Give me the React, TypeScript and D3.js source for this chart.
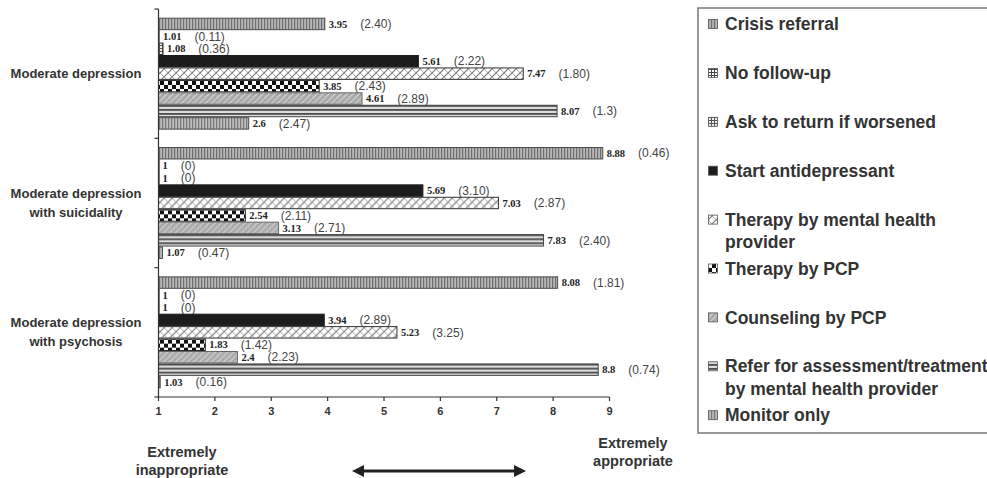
import React from "react";
import * as d3 from "d3";

const W = 987;
const H = 478;

// Clinical scenarios (row groups), one line per array entry
const scenarios = [
  ["Moderate depression"],
  ["Moderate depression", "with suicidality"],
  ["Moderate depression", "with psychosis"],
];

// Management options, in drawing order within each scenario
const options = [
  "Crisis referral",
  "No follow-up",
  "Ask to return if worsened",
  "Start antidepressant",
  "Therapy by mental health provider",
  "Therapy by PCP",
  "Counseling by PCP",
  "Refer for assessment/treatment by mental health provider",
  "Monitor only",
];

const legendLines = [
  ["Crisis referral"],
  ["No follow-up"],
  ["Ask to return if worsened"],
  ["Start antidepressant"],
  ["Therapy by mental health", "provider"],
  ["Therapy by PCP"],
  ["Counseling by PCP"],
  ["Refer for assessment/treatment", "by mental health provider"],
  ["Monitor only"],
];

// Mean appropriateness ratings (1–9) and standard deviations
const meanDepression = [3.95, 1.01, 1.08, 5.61, 7.47, 3.85, 4.61, 8.07, 2.6];
const sdDepression = ["2.40", "0.11", "0.36", "2.22", "1.80", "2.43", "2.89", "1.3", "2.47"];
const meanSuicidality = [8.88, 1, 1, 5.69, 7.03, 2.54, 3.13, 7.83, 1.07];
const sdSuicidality = ["0.46", "0", "0", "3.10", "2.87", "2.11", "2.71", "2.40", "0.47"];
const meanPsychosis = [8.08, 1, 1, 3.94, 5.23, 1.83, 2.4, 8.8, 1.03];
const sdPsychosis = ["1.81", "0", "0", "2.89", "3.25", "1.42", "2.23", "0.74", "0.16"];

const means = [meanDepression, meanSuicidality, meanPsychosis];
const sds = [sdDepression, sdSuicidality, sdPsychosis];

const xTicks = [1, 2, 3, 4, 5, 6, 7, 8, 9];

const SANS = "'Liberation Sans', Arial, Helvetica, sans-serif";
const SERIF = "'Liberation Serif', 'Times New Roman', serif";

const fills = [
  "url(#pat-vstripe)",
  "url(#pat-grid)",
  "url(#pat-grid2)",
  "#1c1c1c",
  "url(#pat-lattice)",
  "url(#pat-checker)",
  "url(#pat-weave)",
  "url(#pat-hstripe)",
  "url(#pat-vstripe2)",
];
const strokes = ["#4a4a4a", "#333", "#333", "#1c1c1c", "#333", "#222", "#666", "#444", "#4a4a4a"];

// rough advance width of a bold serif number label at 10.5px
function labelWidth(s: string) {
  let w = 0;
  for (const c of s) w += c === "." ? 2.6 : 5.25;
  return w;
}

export default function App() {
  const x = d3.scaleLinear().domain([1, 9]).range([158.5, 609.5]);
  const yGroup = d3
    .scaleBand<number>()
    .domain(d3.range(scenarios.length))
    .range([9, 397]);
  const yBar = d3
    .scaleBand<number>()
    .domain(d3.range(options.length))
    .range([0, yGroup.bandwidth()])
    .paddingInner(0)
    .paddingOuter(0.7);

  const axisY = 397;
  const x0 = x(1);
  const groupEdges = [...yGroup.domain().map((g) => yGroup(g)!), 397];

  const legendX = 698;
  const legendTop = 8;
  const legendBottom = 433;
  const legendStep = 48.9;
  const legendFirst = 24;

  return (
    <div
      style={{
        position: "absolute",
        left: 0,
        top: 0,
        width: W,
        height: H,
        overflow: "hidden",
        background: "#fff",
      }}
    >
      <svg width={W + 40} height={H} style={{ display: "block" }}>
        <defs>
          <pattern id="pat-vstripe" width="3" height="4" patternUnits="userSpaceOnUse">
            <rect width="3" height="4" fill="#b8b8b8" />
            <rect width="1.2" height="4" fill="#6e6e6e" />
          </pattern>
          <pattern id="pat-vstripe2" width="3" height="4" patternUnits="userSpaceOnUse">
            <rect width="3" height="4" fill="#bdbdbd" />
            <rect width="1.2" height="4" fill="#777" />
          </pattern>
          <pattern id="pat-grid" width="3" height="3" patternUnits="userSpaceOnUse">
            <rect width="3" height="3" fill="#fff" />
            <rect width="3" height="1" fill="#444" />
            <rect width="1" height="3" fill="#444" />
          </pattern>
          <pattern id="pat-grid2" width="3" height="3" patternUnits="userSpaceOnUse">
            <rect width="3" height="3" fill="#eee" />
            <rect width="3" height="1" fill="#555" />
            <rect width="1" height="3" fill="#555" />
          </pattern>
          <pattern id="pat-lattice" width="8" height="8" patternUnits="userSpaceOnUse">
            <rect width="8" height="8" fill="#fff" />
            <path d="M0,8 L8,0 M-2,2 L2,-2 M6,10 L10,6" stroke="#777" strokeWidth="1.1" />
            <path d="M0,0 Q4,3 8,8" stroke="#999" strokeWidth="0.9" fill="none" />
          </pattern>
          <pattern id="pat-checker" width="8" height="8" patternUnits="userSpaceOnUse">
            <rect width="8" height="8" fill="#fff" />
            <rect width="4" height="4" fill="#111" />
            <rect x="4" y="4" width="4" height="4" fill="#111" />
          </pattern>
          <pattern id="pat-weave" width="6" height="6" patternUnits="userSpaceOnUse">
            <rect width="6" height="6" fill="#a9a9a9" />
            <path d="M0,6 L6,0 M-1,1 L1,-1 M5,7 L7,5" stroke="#d6d6d6" strokeWidth="1.2" />
            <path d="M0,3 L3,6" stroke="#c4c4c4" strokeWidth="0.8" />
          </pattern>
          <pattern id="pat-hstripe" width="4" height="4" patternUnits="userSpaceOnUse">
            <rect width="4" height="4" fill="#dcdcdc" />
            <rect width="4" height="1.8" fill="#4e4e4e" />
          </pattern>
        </defs>

        {/* bars and labels */}
        {means.map((vals, g) => (
          <g key={g} transform={`translate(0,${yGroup(g)})`}>
            {vals.map((v, i) => {
              const y = yBar(i)!;
              const h = yBar.bandwidth();
              const xe = x(v);
              const txt = String(v);
              const lx = xe + 4;
              const sx = lx + labelWidth(txt) + 13;
              const cy = y + h / 2;
              return (
                <g key={i}>
                  <rect
                    x={x0}
                    y={y + 0.5}
                    width={Math.max(xe - x0, 0.6)}
                    height={h - 1}
                    fill={fills[i]}
                    stroke={strokes[i]}
                    strokeWidth={1}
                  />
                  <text
                    x={lx}
                    y={cy}
                    dy="0.35em"
                    fontFamily={SERIF}
                    fontWeight="bold"
                    fontSize={10.5}
                    fill="#222"
                  >
                    {txt}
                  </text>
                  <text
                    x={sx}
                    y={cy}
                    dy="0.35em"
                    fontFamily={SANS}
                    fontSize={12}
                    fill="#444"
                  >
                    {`(${sds[g][i]})`}
                  </text>
                </g>
              );
            })}
          </g>
        ))}

        {/* y axis */}
        <line x1={x0} x2={x0} y1={9} y2={axisY} stroke="#333" strokeWidth={1.2} />
        {groupEdges.map((e, i) => (
          <line key={i} x1={x0 - 4} x2={x0} y1={e} y2={e} stroke="#333" strokeWidth={1.2} />
        ))}
        {scenarios.map((lines, g) => {
          const c = yGroup(g)! + yGroup.bandwidth() / 2;
          const lh = 19;
          const start = c - ((lines.length - 1) * lh) / 2;
          return (
            <text
              key={g}
              textAnchor="middle"
              fontFamily={SANS}
              fontWeight="bold"
              fontSize={13}
              fill="#333"
            >
              {lines.map((ln, k) => (
                <tspan key={k} x={76} y={start + k * lh} dy="0.35em">
                  {ln}
                </tspan>
              ))}
            </text>
          );
        })}

        {/* x axis */}
        <line x1={x0} x2={x(9)} y1={axisY} y2={axisY} stroke="#333" strokeWidth={1.2} />
        {xTicks.map((t) => (
          <g key={t}>
            <line x1={x(t)} x2={x(t)} y1={axisY} y2={axisY + 4} stroke="#333" strokeWidth={1.2} />
            <text
              x={x(t)}
              y={411}
              dy="0.35em"
              textAnchor="middle"
              fontFamily={SANS}
              fontWeight="bold"
              fontSize={11}
              fill="#333"
            >
              {t}
            </text>
          </g>
        ))}

        {/* scale anchors */}
        <text textAnchor="middle" fontFamily={SANS} fontWeight="bold" fontSize={14.5} fill="#333">
          <tspan x={182} y={452} dy="0.35em">Extremely</tspan>
          <tspan x={182} y={470} dy="0.35em">inappropriate</tspan>
        </text>
        <text textAnchor="middle" fontFamily={SANS} fontWeight="bold" fontSize={14.5} fill="#333">
          <tspan x={633} y={443} dy="0.35em">Extremely</tspan>
          <tspan x={633} y={461} dy="0.35em">appropriate</tspan>
        </text>
        <line x1={362} x2={516} y1={471} y2={471} stroke="#222" strokeWidth={3} />
        <path d="M352,471 L364,465 L364,477 Z" fill="#222" />
        <path d="M526,471 L514,465 L514,477 Z" fill="#222" />

        {/* legend frame: right side runs past the visible edge */}
        <path
          d={`M${W + 40},${legendTop} H${legendX} V${legendBottom} H${W + 40}`}
          fill="none"
          stroke="#777"
          strokeWidth={1.5}
        />
        {legendLines.map((lines, i) => {
          const cy = legendFirst + i * legendStep;
          return (
            <g key={i}>
              <rect
                x={708.5}
                y={cy - 4.5}
                width={9}
                height={9}
                fill={fills[i]}
                stroke="#555"
                strokeWidth={0.8}
              />
              <text fontFamily={SANS} fontWeight="bold" fontSize={17.5} fill="#333">
                {lines.map((ln, k) => (
                  <tspan key={k} x={725} y={cy + k * 22.5} dy="0.35em">
                    {ln}
                  </tspan>
                ))}
              </text>
            </g>
          );
        })}
      </svg>
    </div>
  );
}
